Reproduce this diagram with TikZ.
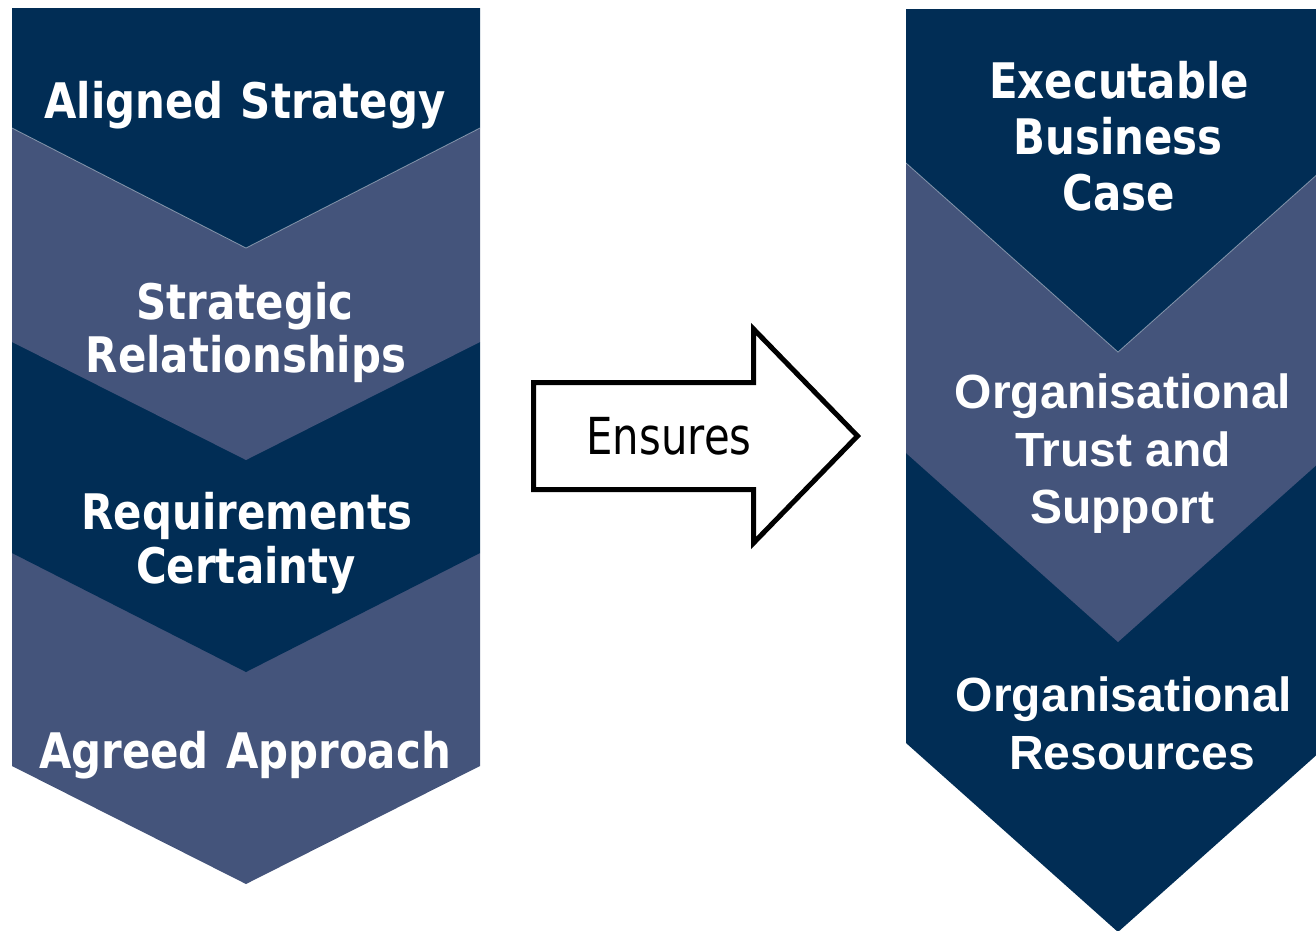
\documentclass[tikz,border=0pt]{standalone}
\usepackage{fontspec}
\newfontfamily\tahb[FakeStretch=0.855]{DejaVu Sans}
\newfontfamily\tahr[FakeStretch=0.82]{DejaVu Sans}
\newfontfamily\arb{Liberation Sans}
\definecolor{dkblue}{HTML}{012D55}
\definecolor{ltblue}{HTML}{44547B}
\tikzset{
  chevedge/.style={draw=white, draw opacity=0.45, line width=0.8pt},
  lbl/.style={text=white, inner sep=0pt, anchor=base, font=\tahb\bfseries\fontsize{49}{55}\selectfont},
  albl/.style={text=white, inner sep=0pt, anchor=base, font=\arb\bfseries\fontsize{48}{54}\selectfont},
  arrowbox/.style={draw=black, fill=white, line width=5pt, miter limit=10},
  arrlbl/.style={text=black, inner sep=0pt, anchor=base, font=\tahr\fontsize{51}{56}\selectfont}
}
\begin{document}
\begin{tikzpicture}[x=1pt,y=-1pt]
\useasboundingbox (0,0) rectangle (1316,930);
\clip (0,0) rectangle (1316,930);
% left column
\fill[ltblue] (12,553) -- (480,553) -- (480,766) -- (246,884) -- (12,766) -- cycle;
\fill[dkblue] (12,342) -- (480,342) -- (480,553) -- (246,672) -- (12,553) -- cycle;
\fill[ltblue] (12,128) -- (480,128) -- (480,342) -- (246,460) -- (12,342) -- cycle;
\fill[dkblue] (12,8) -- (480,8) -- (480,128) -- (246,248) -- (12,128) -- cycle;
\draw[chevedge] (12,128) -- (246,248) -- (480,128);
% right column
\fill[dkblue] (906,453) -- (1330,453) -- (1330,743) -- (1118,932) -- (906,743) -- cycle;
\fill[ltblue] (906,163) -- (1330,163) -- (1330,453) -- (1118,642) -- (906,453) -- cycle;
\fill[dkblue] (906,9) -- (1330,9) -- (1330,163) -- (1118,352) -- (906,163) -- cycle;
\draw[chevedge] (906,163) -- (1118,352) -- (1330,163);
% left labels
\node[lbl] (as) at (245,118) {Aligned\hspace{0.35em}Strategy};
\node[lbl] (sr1) at (245,319) {Strategic};
\node[lbl] (sr2) at (246,372) {Relationships};
\node[lbl] (rc1) at (247,529) {Requirements};
\node[lbl] (rc2) at (246,583) {Certainty};
\node[lbl] (aa) at (245,768) {Agreed\hspace{0.35em}Approach};
% right labels
\node[lbl] (eb1) at (1119,98) {Executable};
\node[lbl] (eb2) at (1118,154) {Business};
\node[lbl] (eb3) at (1119,210) {Case};
\node[albl] (ot1) at (1123,408) {Organisational};
\node[albl] (ot2) at (1123,466) {Trust and};
\node[albl] (ot3) at (1122,523) {Support};
\node[albl] (or1) at (1124,711) {Organisational};
\node[albl] (or2) at (1132,769) {Resources};
% arrow
\draw[arrowbox] (533.5,382.5) -- (753.5,382.5) -- (753.5,329) -- (857.5,436) -- (753.5,543) -- (753.5,489.5) -- (533.5,489.5) -- cycle;
\node[arrlbl] (ens) at (669,454) {Ensures};
\end{tikzpicture}
\end{document}
